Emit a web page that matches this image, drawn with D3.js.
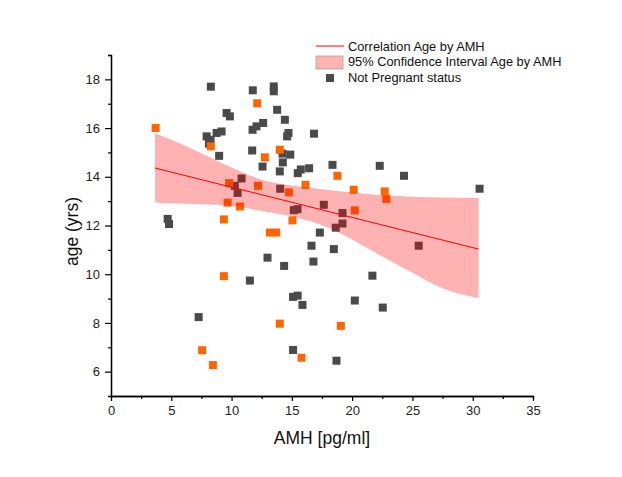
<!DOCTYPE html>
<html>
<head>
<meta charset="utf-8">
<script src="https://cdn.jsdelivr.net/npm/d3@7"></script>
<style>
  body { margin: 0; background: #fff; }
  text { font-family: "Liberation Sans", Arial, sans-serif; }
</style>
</head>
<body>
<div id="chart"></div>
<script>
// data
// not pregnant (dark squares)
let notPregX = [8.28, 11.76, 13.5, 13.5, 13.78, 14.42, 9.59, 9.86, 11.74, 12.07, 12.62,
  7.93, 8.26, 8.76, 9.17, 8.12, 8.97, 11.71, 12.57, 14.0, 14.25, 14.23, 14.87, 15.49,
  15.74, 16.43, 16.84, 14.72, 14.61, 18.37, 22.29, 24.3, 30.57, 4.7, 4.81, 10.83,
  10.27, 10.5, 14.03, 15.16, 15.47, 17.65, 19.2, 19.2, 18.64, 25.52, 17.32, 16.63,
  18.48, 12.98, 16.79, 14.36, 21.68, 11.52, 15.1, 15.48, 15.88, 20.22, 22.54, 7.27,
  15.1, 18.7];
let notPregY = [17.7, 17.55, 17.71, 17.51, 16.75, 16.34, 16.62, 16.48, 15.93, 16.07, 16.21,
  15.66, 15.52, 15.8, 15.86, 15.36, 14.86, 15.08, 14.42, 14.22, 14.59, 14.95, 14.91, 14.15,
  14.3, 14.35, 15.77, 15.8, 15.66, 14.49, 14.45, 14.04, 13.51, 12.27, 12.06, 13.93,
  13.63, 13.34, 13.51, 12.63, 12.67, 12.85, 12.51, 12.08, 11.91, 11.17, 11.71, 11.17,
  11.03, 10.68, 10.52, 10.34, 9.94, 9.74, 9.07, 9.12, 8.74, 8.92, 8.63, 8.24,
  6.89, 6.45];

// pregnant (orange squares)
let pregX = [3.7, 12.12, 8.28, 14.0, 12.76, 9.8, 12.2, 14.75, 16.13, 9.67, 10.69, 9.36,
  15.05, 13.17, 13.71, 18.78, 20.13, 22.7, 22.84, 20.22, 9.36, 14.0, 7.56, 8.45, 15.8, 19.06];
let pregY = [16.0, 17.02, 15.25, 15.11, 14.8, 13.74, 13.63, 13.36, 13.67, 12.94, 12.78, 12.25,
  12.21, 11.71, 11.71, 14.04, 13.47, 13.4, 13.09, 12.62, 9.92, 7.97, 6.88, 6.27, 6.57, 7.88];

// linear fit and 95% band
let fitX = [3.65, 30.49];
let fitY = [14.36, 11.03];
let bandX = [3.65, 5, 7.5, 10, 12.5, 15, 17.5, 20, 22.5, 25, 27.5, 30.49];
let bandUpper = [15.8, 15.52, 14.97, 14.38, 13.88, 13.64, 13.49, 13.35, 13.24, 13.18, 13.15, 13.13];
let bandLower = [12.94, 12.91, 12.87, 12.8, 12.6, 12.38, 12.01, 11.43, 10.73, 10.06, 9.42, 9.02];

// ticks
let xMajor = [0, 5, 10, 15, 20, 25, 30, 35];
let xMinor = [2.5, 7.5, 12.5, 17.5, 22.5, 27.5, 32.5];
let yMajor = [6, 8, 10, 12, 14, 16, 18];
let yMinor = [7, 9, 11, 13, 15, 17, 19];

let legendItems = ["Correlation Age by AMH", "95% Confidence Interval Age by AMH", "Not Pregnant status"];

let margin = { left: 111, right: 89, top: 55, bottom: 81 };
let chart_width = 622 - margin.left - margin.right;
let chart_height = 477 - margin.top - margin.bottom;
let box = 8; // marker size

let svg = d3
  .select("#chart")
  .append("svg")
  .attr("width", 622)
  .attr("height", 477);

let g = svg
  .append("g")
  .attr("transform", `translate(${margin.left},${margin.top})`);

/*   Scales   */
let x_scale = d3.scaleLinear().domain([0, 35]).range([0, chart_width]);
let y_scale = d3.scaleLinear().domain([5, 19]).range([chart_height, 0]);

/*   Points   */
let notPreg = notPregX.map((d, i) => ({ x: d, y: notPregY[i] }));
let preg = pregX.map((d, i) => ({ x: d, y: pregY[i] }));

g.append("g")
  .selectAll("rect")
  .data(notPreg)
  .enter()
  .append("rect")
  .attr("x", (d) => x_scale(d.x) - box / 2)
  .attr("y", (d) => y_scale(d.y) - box / 2)
  .attr("width", box)
  .attr("height", box)
  .attr("fill", "#4a4a4a");

g.append("g")
  .selectAll("rect")
  .data(preg)
  .enter()
  .append("rect")
  .attr("x", (d) => x_scale(d.x) - box / 2)
  .attr("y", (d) => y_scale(d.y) - box / 2)
  .attr("width", box)
  .attr("height", box)
  .attr("fill", "#ff6600");

/*   Confidence band, drawn over the points like the original   */
let band = bandX.map((d, i) => ({ x: d, lo: bandLower[i], hi: bandUpper[i] }));
let area = d3
  .area()
  .x((d) => x_scale(d.x))
  .y0((d) => y_scale(d.lo))
  .y1((d) => y_scale(d.hi))
  .curve(d3.curveMonotoneX);

g.append("path")
  .datum(band)
  .attr("d", area)
  .attr("fill", "red")
  .attr("fill-opacity", 0.3);

/*   Fit line   */
let line = d3
  .line()
  .x((d) => x_scale(d[0]))
  .y((d) => y_scale(d[1]));

g.append("path")
  .datum(fitX.map((d, i) => [d, fitY[i]]))
  .attr("d", line)
  .attr("stroke", "red")
  .attr("stroke-width", 1)
  .attr("fill", "none");

/*    Axis   */
let xAxis = d3.axisBottom(x_scale).tickValues(xMajor).tickSizeInner(5).tickSizeOuter(0).tickPadding(5);
let xAxisMinor = d3.axisBottom(x_scale).tickValues(xMinor).tickSize(3).tickFormat("");
let yAxis = d3.axisLeft(y_scale).tickValues(yMajor).tickSizeInner(6).tickSizeOuter(0).tickPadding(5);
let yAxisMinor = d3.axisLeft(y_scale).tickValues(yMinor).tickSize(3).tickFormat("");

g.append("g")
  .attr("class", "x-axis")
  .attr("transform", `translate(0,${chart_height})`)
  .call(xAxis);
g.append("g")
  .attr("transform", `translate(0,${chart_height})`)
  .call(xAxisMinor);
g.append("g").attr("class", "y-axis").call(yAxis);
g.append("g").call(yAxisMinor);

g.selectAll(".domain").attr("stroke", "#000").attr("stroke-width", 1.3);
g.selectAll(".tick line").attr("stroke", "#000").attr("stroke-width", 1.2);
g.selectAll(".tick text")
  .attr("font-size", "13px")
  .attr("fill", "#222")
  .style("font-family", '"Liberation Sans", Arial, sans-serif');

/* Axis Labels */
g.append("text")
  .attr("x", chart_width / 2)
  .attr("y", chart_height + 48)
  .attr("font-size", "17.5px")
  .attr("text-anchor", "middle")
  .attr("fill", "#111")
  .text("AMH [pg/ml]");

g.append("text")
  .attr("x", -chart_height / 2 - 6)
  .attr("y", -33)
  .attr("font-size", "17.5px")
  .attr("text-anchor", "middle")
  .attr("fill", "#111")
  .attr("transform", "rotate(-90)")
  .text("age (yrs)");

/*   Legend   */
let legend = svg.append("g").attr("transform", "translate(316,46)");

legend
  .append("line")
  .attr("x1", 0)
  .attr("x2", 28)
  .attr("y1", 0)
  .attr("y2", 0)
  .attr("stroke", "red")
  .attr("stroke-width", 1);

legend
  .append("rect")
  .attr("x", 0)
  .attr("y", 10)
  .attr("width", 27)
  .attr("height", 13)
  .attr("fill", "#ffb3b3")
  .attr("stroke", "#b89a9a")
  .attr("stroke-width", 0.8);

legend
  .append("rect")
  .attr("x", 14 - box / 2)
  .attr("y", 32 - box / 2)
  .attr("width", box)
  .attr("height", box)
  .attr("fill", "#4a4a4a");

legendItems.forEach((d, i) => {
  legend
    .append("text")
    .attr("x", 32)
    .attr("y", 4.5 + i * 15.7)
    .attr("font-size", "12.8px")
    .attr("fill", "#111")
    .text(d);
});
</script>
</body>
</html>
